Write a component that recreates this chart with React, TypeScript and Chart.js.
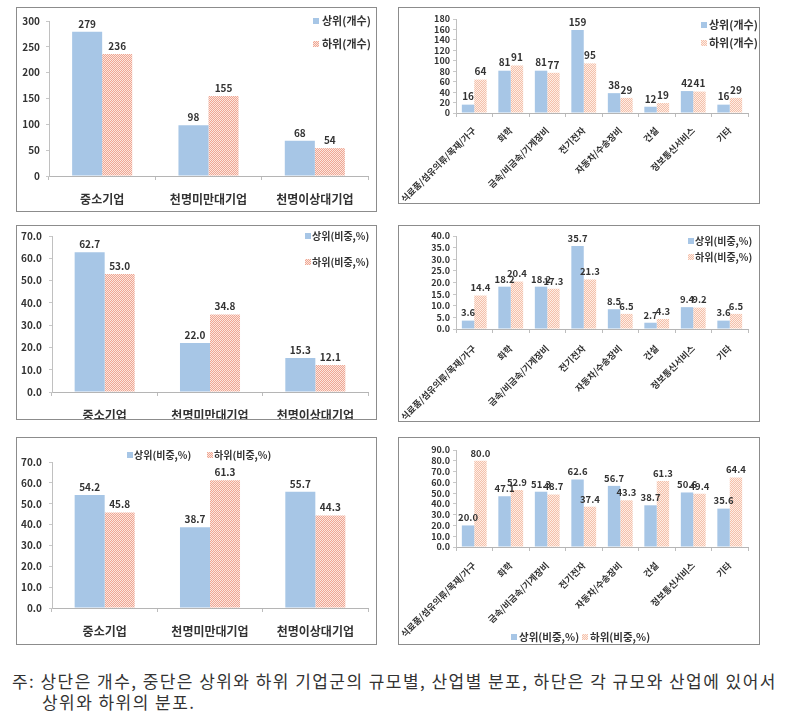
import React, { useEffect, useRef } from "react";
import { Chart, registerables } from "chart.js";

Chart.register(...registerables);

// ---------- data ----------
const sizeCategories = ["중소기업", "천명미만대기업", "천명이상대기업"];
const industryCategories = [
  "식료품/섬유의류/목재/가구",
  "화학",
  "금속/비금속/기계장비",
  "전기전자",
  "자동차/수송장비",
  "건설",
  "정보통신서비스",
  "기타",
];

const countLegend = ["상위(개수)", "하위(개수)"];
const shareLegend = ["상위(비중,%)", "하위(비중,%)"];

const sizeUpperCount = [279, 98, 68];
const sizeLowerCount = [236, 155, 54];
const industryUpperCount = [16, 81, 81, 159, 38, 12, 42, 16];
const industryLowerCount = [64, 91, 77, 95, 29, 19, 41, 29];

const sizeUpperShare = [62.7, 22.0, 15.3];
const sizeLowerShare = [53.0, 34.8, 12.1];
const industryUpperShare = [3.6, 18.2, 18.2, 35.7, 8.5, 2.7, 9.4, 3.6];
const industryLowerShare = [14.4, 20.4, 17.3, 21.3, 6.5, 4.3, 9.2, 6.5];

const sizeUpperWithin = [54.2, 38.7, 55.7];
const sizeLowerWithin = [45.8, 61.3, 44.3];
const industryUpperWithin = [20.0, 47.1, 51.3, 62.6, 56.7, 38.7, 50.6, 35.6];
const industryLowerWithin = [80.0, 52.9, 48.7, 37.4, 43.3, 61.3, 49.4, 64.4];

const noteLine1 = "주: 상단은 개수, 중단은 상위와 하위 기업군의 규모별, 산업별 분포, 하단은 각 규모와 산업에 있어서";
const noteLine2 = "상위와 하위의 분포.";

// ---------- styling ----------
const FONT = "'Noto Sans CJK KR', 'Noto Sans', sans-serif";
const TEXT = "#333333";
const BLUE = "#A7C6E6";

function makePattern(dark: string, light: string) {
  const c = document.createElement("canvas");
  c.width = 2;
  c.height = 2;
  const g = c.getContext("2d")!;
  g.fillStyle = light;
  g.fillRect(0, 0, 2, 2);
  g.fillStyle = dark;
  g.fillRect(0, 0, 1, 1);
  g.fillRect(1, 1, 1, 1);
  return g.createPattern(c, "repeat")!;
}

const valueLabelPlugin = {
  id: "valueLabels",
  afterDatasetsDraw(chart: any, _a: any, opts: any) {
    const ctx = chart.ctx;
    ctx.save();
    ctx.font = `bold ${opts.size}px ${FONT}`;
    ctx.fillStyle = TEXT;
    ctx.textAlign = "center";
    ctx.textBaseline = "bottom";
    chart.data.datasets.forEach((ds: any, i: number) => {
      const meta = chart.getDatasetMeta(i);
      meta.data.forEach((el: any, j: number) => {
        const v = Number(ds.data[j]);
        ctx.fillText(v.toFixed(opts.decimals), el.x, el.y - opts.gap);
      });
    });
    ctx.restore();
  },
};

const boxLegendPlugin = {
  id: "boxLegend",
  afterDraw(chart: any, _a: any, opts: any) {
    const ctx = chart.ctx;
    ctx.save();
    ctx.font = `bold ${opts.size}px ${FONT}`;
    ctx.textBaseline = "middle";
    ctx.textAlign = "left";
    chart.data.datasets.forEach((ds: any, i: number) => {
      const it = opts.items[i];
      ctx.fillStyle = ds.backgroundColor;
      ctx.fillRect(it.mx, it.y - 3, 6, 6);
      ctx.fillStyle = TEXT;
      ctx.fillText(ds.label, it.tx, it.y);
    });
    ctx.restore();
  },
};

type PanelCfg = {
  box: number[];
  area: number[];
  cats: string[];
  upper: number[];
  lower: number[];
  names: string[];
  max: number;
  step: number;
  decimals: number;
  rotate: number;
  catPct: number;
  tickFont: number;
  catFont: number;
  catPad: number;
  yPad: number;
  valueFont: number;
  legendFont: number;
  legend: { mx: number; tx: number; y: number }[];
  light: boolean;
};

const panels: PanelCfg[] = [
  {
    box: [16, 7, 377, 212], area: [49, 21, 368, 176],
    cats: sizeCategories, upper: sizeUpperCount, lower: sizeLowerCount, names: countLegend,
    max: 300, step: 50, decimals: 0, rotate: 0, catPct: 0.565,
    tickFont: 10, catFont: 12, catPad: 12, yPad: 6, valueFont: 10, legendFont: 11,
    legend: [{ mx: 313, tx: 322, y: 21 }, { mx: 313, tx: 322, y: 44 }], light: false,
  },
  {
    box: [398, 7, 760, 204], area: [456, 19, 748, 113],
    cats: industryCategories, upper: industryUpperCount, lower: industryLowerCount, names: countLegend,
    max: 180, step: 20, decimals: 0, rotate: 45, catPct: 0.68,
    tickFont: 9, catFont: 9, catPad: 8, yPad: 3, valueFont: 10, legendFont: 11,
    legend: [{ mx: 701, tx: 709, y: 25 }, { mx: 701, tx: 709, y: 43 }], light: true,
  },
  {
    box: [16, 225, 377, 420], area: [52, 236, 368, 392],
    cats: sizeCategories, upper: sizeUpperShare, lower: sizeLowerShare, names: shareLegend,
    max: 70, step: 10, decimals: 1, rotate: 0, catPct: 0.57,
    tickFont: 10, catFont: 12, catPad: 12, yPad: 7, valueFont: 10, legendFont: 10,
    legend: [{ mx: 305, tx: 312, y: 236 }, { mx: 305, tx: 312, y: 262 }], light: false,
  },
  {
    box: [398, 225, 760, 422], area: [456, 236, 748, 329],
    cats: industryCategories, upper: industryUpperShare, lower: industryLowerShare, names: shareLegend,
    max: 40, step: 5, decimals: 1, rotate: 45, catPct: 0.68,
    tickFont: 9, catFont: 9, catPad: 10, yPad: 3, valueFont: 9.5, legendFont: 10,
    legend: [{ mx: 688, tx: 695, y: 241 }, { mx: 688, tx: 695, y: 257 }], light: true,
  },
  {
    box: [16, 437, 377, 645], area: [52, 462, 368, 608],
    cats: sizeCategories, upper: sizeUpperWithin, lower: sizeLowerWithin, names: shareLegend,
    max: 70, step: 10, decimals: 1, rotate: 0, catPct: 0.57,
    tickFont: 10, catFont: 12, catPad: 12, yPad: 7, valueFont: 10, legendFont: 10,
    legend: [{ mx: 127, tx: 134, y: 455 }, { mx: 207, tx: 214, y: 455 }], light: false,
  },
  {
    box: [398, 437, 760, 645], area: [456, 450, 748, 547],
    cats: industryCategories, upper: industryUpperWithin, lower: industryLowerWithin, names: shareLegend,
    max: 90, step: 10, decimals: 1, rotate: 45, catPct: 0.68,
    tickFont: 9, catFont: 9, catPad: 9, yPad: 3, valueFont: 9.5, legendFont: 10.5,
    legend: [{ mx: 511, tx: 519, y: 637 }, { mx: 582, tx: 590, y: 637 }], light: true,
  },
];

function Panel({ cfg }: { cfg: PanelCfg }) {
  const ref = useRef<HTMLCanvasElement>(null);
  const [bl, bt, br, bb] = cfg.box;
  const cw = br - bl - 2;
  const ch = bb - bt - 2;
  useEffect(() => {
    const ox = bl + 1;
    const oy = bt + 1;
    const [al, at, ar, ab] = cfg.area;
    const canvas = ref.current!;
    const lowerFill = cfg.light
      ? makePattern("#F5C0AA", "#FDEEE6")
      : makePattern("#EFA693", "#FCE6DE");
    const chart = new Chart(canvas, {
      type: "bar",
      data: {
        labels: cfg.cats,
        datasets: [
          { label: cfg.names[0], data: cfg.upper, backgroundColor: BLUE, categoryPercentage: cfg.catPct, barPercentage: 1 },
          { label: cfg.names[1], data: cfg.lower, backgroundColor: lowerFill as any, categoryPercentage: cfg.catPct, barPercentage: 1 },
        ],
      },
      options: {
        responsive: false,
        animation: false,
        devicePixelRatio: 1,
        layout: { padding: { left: 0, top: at - oy, right: ox + cw - ar, bottom: 0 } },
        plugins: {
          legend: { display: false },
          tooltip: { enabled: false },
          valueLabels: { size: cfg.valueFont, decimals: cfg.decimals, gap: 3 },
          boxLegend: {
            size: cfg.legendFont,
            items: cfg.legend.map((l) => ({ mx: l.mx - ox, tx: l.tx - ox, y: l.y - oy })),
          },
        } as any,
        scales: {
          x: {
            grid: { display: true, drawOnChartArea: false, drawTicks: true, tickLength: 4, color: "#bdbdbd", offset: true },
            border: { color: "#b5b5b5" },
            ticks: {
              autoSkip: false,
              maxRotation: cfg.rotate,
              minRotation: cfg.rotate,
              padding: cfg.catPad,
              color: TEXT,
              font: { family: FONT, size: cfg.catFont, weight: "bold" },
            },
            afterFit: (s: any) => {
              s.height = oy + ch - ab;
              s.paddingLeft = 0;
              s.paddingRight = 0;
            },
          },
          y: {
            min: 0,
            max: cfg.max,
            grid: { display: true, drawOnChartArea: false, drawTicks: true, tickLength: 3, color: "#c8c8c8" },
            border: { color: "#c0c0c0" },
            ticks: {
              autoSkip: false,
              stepSize: cfg.step,
              padding: cfg.yPad,
              color: TEXT,
              font: { family: FONT, size: cfg.tickFont, weight: "bold" },
              callback: (v: any) => Number(v).toFixed(cfg.decimals),
            },
            afterFit: (s: any) => {
              s.width = al - ox;
              s.paddingTop = 0;
              s.paddingBottom = 0;
            },
          },
        } as any,
      },
      plugins: [valueLabelPlugin, boxLegendPlugin],
    });
    return () => chart.destroy();
  }, []);
  return (
    <div
      style={{
        position: "absolute",
        left: bl,
        top: bt,
        width: br - bl,
        height: bb - bt,
        border: "1px solid #8c8c8c",
        boxSizing: "border-box",
        background: "#fff",
      }}
    >
      <canvas ref={ref} width={cw} height={ch} style={{ display: "block", width: cw, height: ch }} />
    </div>
  );
}

const noteStyle: React.CSSProperties = {
  position: "absolute",
  fontSize: 17,
  letterSpacing: "1.45px",
  lineHeight: "21px",
  color: "#333",
  whiteSpace: "nowrap",
};

export default function App() {
  return (
    <div
      style={{
        position: "absolute",
        left: 0,
        top: 0,
        width: 793,
        height: 725,
        background: "#fff",
        fontFamily: FONT,
      }}
    >
      {panels.map((p, i) => (
        <Panel key={i} cfg={p} />
      ))}
      <div style={{ ...noteStyle, left: 12, top: 670 }}>{noteLine1}</div>
      <div style={{ ...noteStyle, left: 42, top: 691 }}>{noteLine2}</div>
    </div>
  );
}
